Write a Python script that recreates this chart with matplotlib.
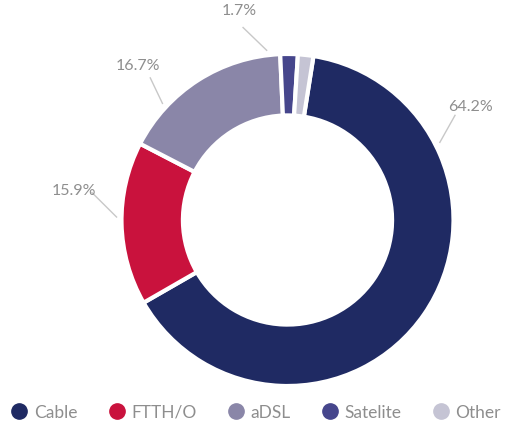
import numpy as np
import matplotlib.pyplot as plt
from matplotlib.lines import Line2D

# Broadband access technology share (%)
categories = ['Cable', 'FTTH/O', 'aDSL', 'Satelite', 'Other']
shares = [64.2, 15.9, 16.7, 1.7, 1.5]
labels = ['64.2%', '15.9%', '16.7%', '1.7%', None]
colors = ['#1f2a63', '#c9123d', '#8a86a8', '#46468c', '#c5c4d4']

# callout geometry: angle (degrees clockwise from top) of the leader start on
# the ring and of the leader end / label
leader_start = [63, 271, 313, 353, None]
leader_end = [58, 278, 316, 347, None]

plt.rcParams['font.family'] = ['Lato', 'DejaVu Sans']
text_color = '#8e8e8e'

fig = plt.figure(figsize=(5.32, 4.27), dpi=100)
# square axes centred on the ring
cx, cy, r = 287.5, 221, 166
ax = fig.add_axes([(cx - r) / 532, (427 - cy - r) / 427, 2 * r / 532, 2 * r / 427])
ax.axis('off')

ax.pie(shares, colors=colors, startangle=81, counterclock=False, radius=1.0,
       wedgeprops=dict(width=0.37, edgecolor='white', linewidth=3))
ax.set_xlim(-1, 1)
ax.set_ylim(-1, 1)


def polar(angle, rad):
    t = np.deg2rad(angle)
    return rad * np.sin(t), rad * np.cos(t)


for lab, a0, a1 in zip(labels, leader_start, leader_end):
    if lab is None:
        continue
    x0, y0 = polar(a0, 1.03)
    x1, y1 = polar(a1, 1.19)
    ax.plot([x0, x1], [y0, y1], color='#c8c8c8', lw=1, clip_on=False)
    tx, ty = polar(a1, 1.3)
    ax.text(tx, ty, lab, ha='center', va='center', fontsize=11.5,
            color=text_color, clip_on=False)

handles = [Line2D([], [], marker='o', linestyle='none', markersize=11,
                  markerfacecolor=c, markeredgecolor=c) for c in colors]
fig.legend(handles, categories, loc='center', ncol=5, frameon=False,
           bbox_to_anchor=(0.481, 14 / 427), labelcolor=text_color,
           prop=dict(size=12.5),
           handletextpad=0.35, columnspacing=1.75, handlelength=1.0)

fig.savefig('out.png', dpi=100)
